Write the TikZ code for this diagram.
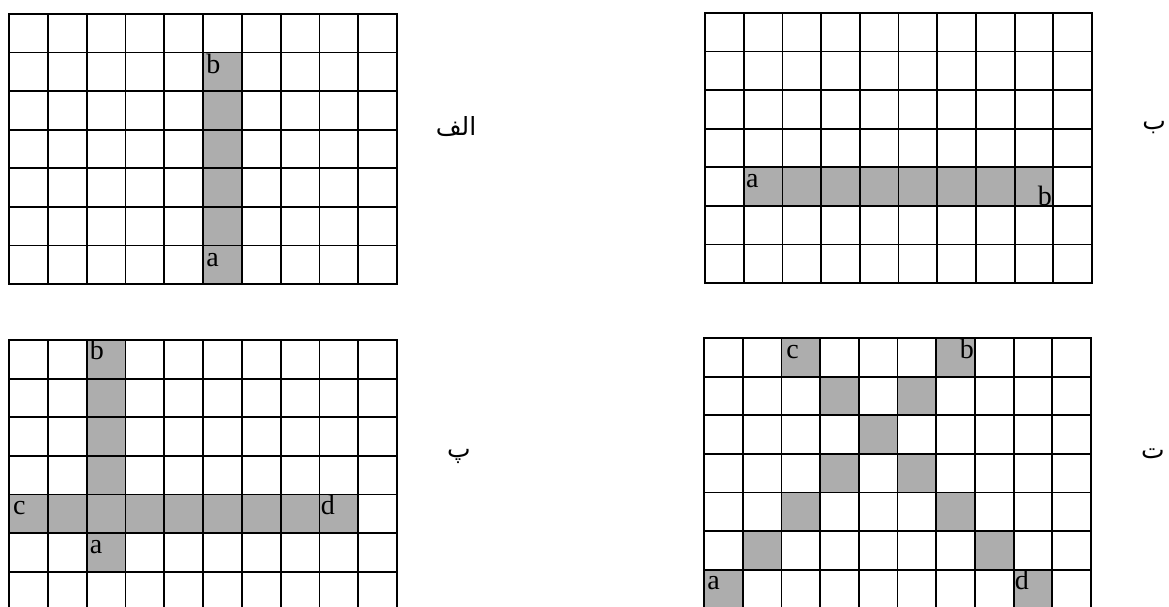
\documentclass[tikz,border=0pt]{standalone}
\usepackage{fontspec}
\setmainfont{Liberation Serif}
\newfontfamily\arabicfont[Script=Arabic]{DejaVu Sans}
\TeXXeTstate=1
\tikzset{
  gridline/.style={line width=1.8pt, line cap=rect},
  shade/.style={fill=black!32, draw=none},
  letter/.style={inner sep=0pt, text height=19pt, text depth=0pt, font=\fontsize{28}{32}\selectfont},
  arlabel/.style={inner sep=0pt, font=\arabicfont\fontsize{25}{30}\selectfont},
}
\newcommand\drawcells{%
  \foreach \i in {0,...,10} \draw[gridline] (\i,0) -- (\i,7);
  \foreach \j in {0,...,7} \draw[gridline] (0,\j) -- (10,\j);
}
\begin{document}
\begin{tikzpicture}[x=1pt,y=-1pt]
\useasboundingbox[fill=white] (0,0) rectangle (1169,607);
% Grid A (top left)
\begin{scope}[shift={(9,14)}, xscale=38.8, yscale=38.57]
  \foreach \j in {1,...,6} \fill[shade] (5,\j) rectangle (6,\j+1);
  \drawcells
  \node[letter, anchor=north west] (Ab) at (5.08,1.05) {b};
  \node[letter, anchor=north west] (Aa) at (5.08,6.05) {a};
\end{scope}
\node[arlabel] (LA) at (456,127) {\beginR الف\endR};
% Grid B (top right)
\begin{scope}[shift={(705,13)}, xscale=38.7, yscale=38.57]
  \fill[shade] (1,4) rectangle (9,5);
  \drawcells
  \node[letter, anchor=north west] (Ba) at (1.06,4.03) {a};
  \node[letter, anchor=south east] (Bb) at (8.97,5.0) {b};
\end{scope}
\node[arlabel] (LB) at (1154,128) {\beginR ب\endR};
% Grid C (bottom left)
\begin{scope}[shift={(9,340)}, xscale=38.8, yscale=38.6]
  \fill[shade] (2,0) rectangle (3,6);
  \fill[shade] (0,4) rectangle (9,5);
  \drawcells
  \node[letter, anchor=north west] (Cb) at (2.08,0.02) {b};
  \node[letter, anchor=north west] (Ca) at (2.08,5.03) {a};
  \node[letter, anchor=north west] (Cc) at (0.1,4.03) {c};
  \node[letter, anchor=north west] (Cd) at (8.03,4.03) {d};
\end{scope}
\node[arlabel] (LC) at (459,456) {\beginR پ\endR};
% Grid D (bottom right)
\begin{scope}[shift={(704,338)}, xscale=38.7, yscale=38.6]
  \foreach \c/\r in {2/0,6/0,3/1,5/1,4/2,3/3,5/3,2/4,6/4,1/5,7/5,0/6,8/6}
    \fill[shade] (\c,\r) rectangle (\c+1,\r+1);
  \drawcells
  \node[letter, anchor=north west] (Dc) at (2.12,0.03) {c};
  \node[letter, anchor=north east] (Db) at (6.98,0.03) {b};
  \node[letter, anchor=north west] (Da) at (0.08,6.03) {a};
  \node[letter, anchor=north west] (Dd) at (8.03,6.03) {d};
\end{scope}
\node[arlabel] (LD) at (1153,454) {\beginR ت\endR};
\end{tikzpicture}
\end{document}
